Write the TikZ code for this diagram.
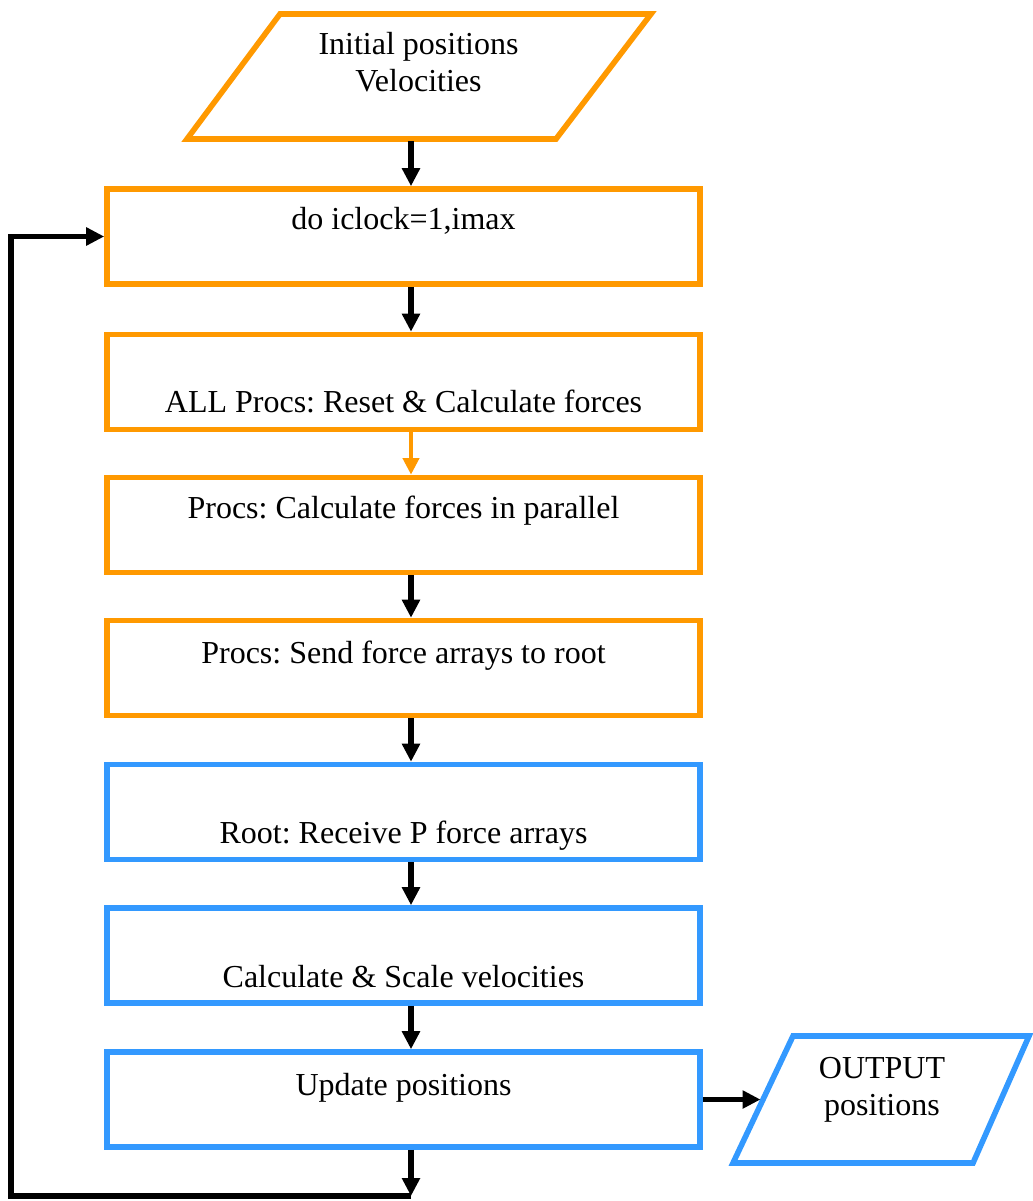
\documentclass[tikz,border=0pt]{standalone}
\usepackage{fontspec}
\setmainfont{Liberation Serif}
\usetikzlibrary{arrows.meta}
\definecolor{orng}{RGB}{255,153,0}
\definecolor{blu}{RGB}{51,153,255}
\frenchspacing
\begin{document}
\begin{tikzpicture}[x=0.75pt,y=-0.75pt,
  box/.style={draw, line width=4.2pt, minimum width=444.75pt, minimum height=71.25pt, inner sep=0pt, outer sep=2.1pt},
  obox/.style={box, draw=orng},
  bbox/.style={box, draw=blu},
  para/.style={line width=4.2pt, line join=miter},
  lbl/.style={anchor=base, inner sep=0pt, font=\fontsize{24}{27.6}\selectfont},
  arr/.style={line width=4.4pt, -{Triangle[length=13.5pt,width=13pt]}},
  oarr/.style={line width=3.6pt, draw=orng, -{Triangle[length=12.5pt,width=12pt]}, color=orng}]
\useasboundingbox (0,0) rectangle (1032,1201);
% top input parallelogram
\draw[para, draw=orng] (280,14) -- (651,14) -- (556,139) -- (187,139) -- cycle;
\coordinate (inB) at (411,141.5);
\node[lbl] (in1) at (418.5,55) {Initial positions};
\node[lbl] (in2) at (418.5,92) {Velocities};
% boxes
\node[obox] (b1) at (403.5,236.5) {};
\node[obox] (b2) at (403.5,382) {};
\node[obox] (b3) at (403.5,525) {};
\node[obox] (b4) at (403.5,668) {};
\node[bbox] (b5) at (403.5,812) {};
\node[bbox] (b6) at (403.5,955.5) {};
\node[bbox] (b7) at (403.5,1099.5) {};
\node[lbl] (t1) at (403.5,230) {do iclock=1,imax};
\node[lbl] (t2) at (403.5,412) {ALL Procs: Reset \& Calculate forces};
\node[lbl] (t3) at (403.5,518) {Procs: Calculate forces in parallel};
\node[lbl] (t4) at (403.5,663) {Procs: Send force arrays to root};
\node[lbl] (t5) at (403.5,843) {Root: Receive P force arrays};
\node[lbl] (t6) at (403.5,987) {Calculate \& Scale velocities};
\node[lbl] (t7) at (403.5,1095) {Update positions};
% output parallelogram
\draw[para, draw=blu] (793,1036) -- (1029,1036) -- (973,1163) -- (733,1163) -- cycle;
\coordinate (outL) at (760.5,1099.5);
\node[lbl] (o1) at (882,1078) {OUTPUT};
\node[lbl] (o2) at (882,1115) {positions};
% connectors
\coordinate (ax) at (411,0);
\coordinate (lx) at (11,0);
\coordinate (lb) at (411,1196);
\draw[arr] (inB) -- (b1.north -| ax);
\draw[arr] (b1.south -| ax) -- (b2.north -| ax);
\draw[oarr] (b2.south -| ax) -- (b3.north -| ax);
\draw[arr] (b3.south -| ax) -- (b4.north -| ax);
\draw[arr] (b4.south -| ax) -- (b5.north -| ax);
\draw[arr] (b5.south -| ax) -- (b6.north -| ax);
\draw[arr] (b6.south -| ax) -- (b7.north -| ax);
\draw[arr] (b7.east) -- (outL);
\draw[arr] (b7.south -| ax) -- (lb);
\draw[arr, line join=miter] (lb) -- (lx |- lb) |- (b1.west);
\end{tikzpicture}
\end{document}
